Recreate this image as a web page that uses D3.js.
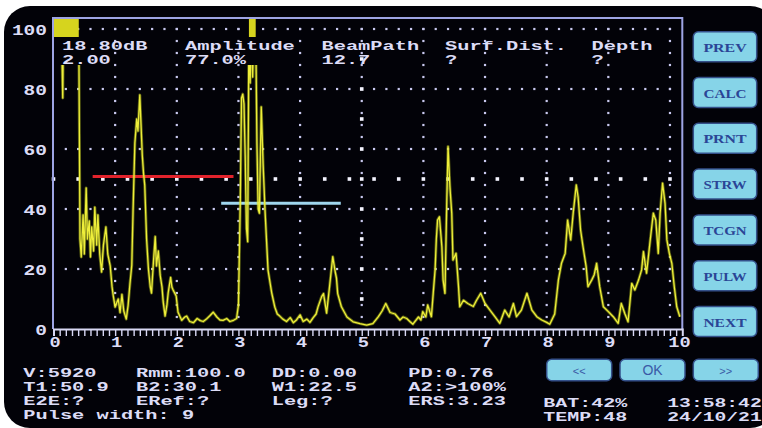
<!DOCTYPE html>
<html><head><meta charset="utf-8">
<script src="https://cdn.jsdelivr.net/npm/d3@7"></script>
<style>html,body{margin:0;padding:0;background:#fff;}svg{display:block;}</style>
</head><body><svg id="c" width="762" height="428"></svg>
<script>
// ---- data ----
const traceX = [0,0.13,0.15,0.16,0.41,0.43,0.45,0.48,0.50,0.53,0.55,0.58,0.60,0.62,0.65,0.67,0.70,0.72,0.75,0.78,0.81,0.85,0.88,0.92,0.95,0.97,1.00,1.03,1.05,1.08,1.11,1.14,1.18,1.21,1.24,1.27,1.29,1.32,1.35,1.37,1.40,1.42,1.44,1.46,1.48,1.51,1.54,1.57,1.59,1.62,1.65,1.67,1.70,1.73,1.76,1.78,1.81,1.84,1.86,1.90,1.92,1.94,1.99,2.02,2.08,2.13,2.16,2.21,2.27,2.33,2.38,2.43,2.48,2.54,2.59,2.65,2.70,2.75,2.81,2.86,2.92,2.97,3.00,3.02,3.03,3.04,3.05,3.07,3.09,3.11,3.12,3.13,3.15,3.17,3.19,3.21,3.23,3.25,3.28,3.30,3.32,3.34,3.37,3.40,3.43,3.48,3.54,3.59,3.63,3.67,3.72,3.78,3.84,3.89,3.94,4.00,4.05,4.11,4.16,4.21,4.26,4.29,4.35,4.38,4.43,4.48,4.53,4.57,4.59,4.61,4.67,4.76,4.86,4.97,5.08,5.18,5.27,5.33,5.39,5.46,5.54,5.62,5.67,5.73,5.78,5.83,5.92,5.96,5.99,6.04,6.07,6.13,6.16,6.19,6.21,6.23,6.26,6.30,6.32,6.35,6.38,6.40,6.43,6.46,6.48,6.53,6.57,6.59,6.65,6.72,6.81,6.86,6.93,7.00,7.08,7.16,7.24,7.32,7.39,7.46,7.51,7.59,7.68,7.76,7.84,7.92,8.00,8.05,8.13,8.19,8.24,8.30,8.34,8.39,8.43,8.48,8.51,8.55,8.59,8.64,8.67,8.73,8.77,8.81,8.86,8.92,9.00,9.08,9.16,9.21,9.27,9.32,9.38,9.43,9.49,9.54,9.57,9.62,9.68,9.73,9.77,9.81,9.84,9.88,9.92,9.95,9.99,10.03,10.07,10.11,10.16];
const traceY = [100,100,77,100,100,30,24,38,25,47,30,36,24,34,26,40.6,28,38,25,19,28,34,25,21,14,11,7.3,9,10,5.5,11.5,6,3.3,7.8,15,21.3,38.8,62,70,66,78,68,58,52,48,30,20,14,12,22,30.8,21,26,18,14,9,4.3,8,12,17.2,14,13,11,5.6,2.9,4,4.3,2.5,2.1,3.5,2.8,2.5,3.3,4.5,5.6,4,3,2.9,3.5,2.5,2.9,3.5,8,30.7,42.4,60,77,78.3,75,57,45,33.4,29.1,100,82,100,84,100,100,62,40,38.6,74,55,40,19.6,12,7.3,5,4.3,3.3,2.5,3.8,2.1,3,4.7,2.5,3.3,2.2,3.7,5,7.3,10.8,11.8,5.3,14.5,24.1,19,17,11.8,7.4,4,2.4,1.8,1.3,1.8,4.1,6,8.5,5.5,5,3,4,3.5,2.5,1.6,4,3,5.8,4,8,4.1,12,19.7,30,36.3,37.4,27.4,16.3,11.9,43,60.8,47.6,38.6,23,25.2,14.1,7.4,9.6,8.5,7.5,9.5,11.9,8.5,6.3,4.1,1.9,6.3,4,8.5,4.1,6.3,11.9,6.3,4.1,3,2.2,1.6,5,16.3,21.9,25.2,36.3,29.7,38.6,48,44,33,27.4,20.8,14.1,16.3,18,21.9,14.1,7.4,5.8,4.1,1.9,8.5,5,2.4,15.2,13,16.3,19.7,25.8,18.6,29.7,38.6,36.3,25.2,38.6,48.6,41.9,29.7,25.2,21.9,14.1,7.4,4.1];
const displayLimit = 88;
const yTickValues = [0,20,40,60,80,100];
const xTickValues = [0,1,2,3,4,5,6,7,8,9,10];
const satStart = [0, 3.17];
const satEnd = [0.41, 3.28];
const gateLevel = [50.8, 41.9];
const gateStart = [0.635, 2.72];
const gateEnd = [2.92, 4.66];
const headerLabels = ["18.80dB", "Amplitude", "BeamPath", "Surf.Dist.", "Depth"];
const headerValues = ["2.00", "77.0%", "12.7", "?", "?"];
const infoCol1 = ["V:5920", "T1:50.9", "E2E:?", "Pulse width: 9"];
const infoCol2 = ["Rmm:100.0", "B2:30.1", "ERef:?"];
const infoCol3 = ["DD:0.00", "W1:22.5", "Leg:?"];
const infoCol4 = ["PD:0.76", "A2:>100%", "ERS:3.23"];
const statusLeft = ["BAT:42%", "TEMP:48"];
const statusRight = ["13:58:42", "24/10/21"];
const sideButtons = ["PREV", "CALC", "PRNT", "STRW", "TCGN", "PULW", "NEXT"];
const bottomButtons = ["<<", "OK", ">>"];

// ---- drawing ----
const svg = d3.select("#c");
const TXT = "#dcdcf6";
const FONT = "'Liberation Mono', 'DejaVu Sans Mono', monospace";
const FS = 13.5;

svg.append("rect").attr("width", 762).attr("height", 428).attr("fill", "#fff");
svg.append("rect").attr("x", 4).attr("y", 6).attr("width", 772).attr("height", 422)
  .attr("rx", 26).attr("fill", "#020208");

const x = d3.scaleLinear().domain([0, 10.2]).range([53.5, 682.3]);
const y = d3.scaleLinear().domain([0, 100]).range([329, 29]);

function txt(g, px, py, s, cw, opts = {}) {
  return g.append("text").attr("x", px).attr("y", py).text(s)
    .attr("font-family", opts.font || FONT).attr("font-weight", "bold")
    .attr("font-size", opts.size || FS).attr("fill", opts.fill || TXT)
    .attr("textLength", s.length * cw).attr("lengthAdjust", "spacingAndGlyphs")
    .attr("text-anchor", opts.anchor || "start").style("white-space", "pre");
}

// grid dots
const grid = svg.append("g");
const rows = [20, 40, 60, 80, 100];
rows.forEach(v => {
  d3.range(1, 51).forEach(i => {
    const xv = i * 0.2;
    grid.append("rect").attr("x", x(xv) - 1.1).attr("y", y(v) - 1.1)
      .attr("width", 2.2).attr("height", 2.2).attr("fill", "#c8c8ee");
  });
});
d3.range(1, 11).forEach(c => {
  d3.range(1, 26).forEach(k => {
    const v = k * 4;
    grid.append("rect").attr("x", x(c) - 1.1).attr("y", y(v) - 1.1)
      .attr("width", 2.2).attr("height", 2.2).attr("fill", "#c8c8ee");
  });
});
d3.range(0, 26).forEach(i => {
  const xv = i * 0.4;
  grid.append("rect").attr("x", x(xv) - 1.8).attr("y", y(50) - 1.8)
    .attr("width", 3.6).attr("height", 3.6).attr("fill", "#f4f4ff");
});
d3.range(1, 10).forEach(k => {
  grid.append("rect").attr("x", x(5) - 1.8).attr("y", y(k * 10) - 1.8)
    .attr("width", 3.6).attr("height", 3.6).attr("fill", "#f4f4ff");
});

// gates
gateLevel.forEach((lv, i) => {
  svg.append("line").attr("x1", x(gateStart[i])).attr("x2", x(gateEnd[i]))
    .attr("y1", y(lv)).attr("y2", y(lv))
    .attr("stroke", i === 0 ? "#e2232c" : "#9fd6ee").attr("stroke-width", 3);
});

// trace, clipped at the display limit
svg.append("clipPath").attr("id", "clipTrace").append("rect")
  .attr("x", x(0)).attr("y", y(displayLimit)).attr("width", x(10.2) - x(0)).attr("height", y(0) - y(displayLimit));
const pts = traceX.map((d, i) => [d, traceY[i]]);
const line = d3.line().x(d => x(d[0])).y(d => y(d[1]));
const tg = svg.append("g").attr("clip-path", "url(#clipTrace)");
tg.append("path").datum(pts).attr("d", line).attr("fill", "none")
  .attr("stroke", "rgba(200,210,30,0.45)").attr("stroke-width", 3).attr("stroke-linejoin", "round");
tg.append("path").datum(pts).attr("d", line).attr("fill", "none")
  .attr("stroke", "#eeee3a").attr("stroke-width", 1.3).attr("stroke-linejoin", "round");

// saturation markers
satStart.forEach((s, i) => {
  svg.append("rect").attr("x", x(s)).attr("y", 18.5)
    .attr("width", x(satEnd[i]) - x(s)).attr("height", 18.5).attr("fill", "#d6d41e");
});

// frame
svg.append("path")
  .attr("d", `M${x(0) - 0.5},${y(0)} V18 H${x(10.2)} V${y(0)}`)
  .attr("fill", "none").attr("stroke", "#9ea4e4").attr("stroke-width", 2);

// x ruler (axis)
const ruler = svg.append("g").attr("transform", `translate(0,${y(0)})`)
  .call(d3.axisBottom(x).tickValues(d3.range(0, 102).map(i => i / 10)).tickSize(7).tickFormat(""));
ruler.select(".domain").attr("stroke", "#d8d8f4").attr("stroke-width", 2);
ruler.selectAll(".tick line").attr("stroke", "#d8d8f4").attr("stroke-width", 1.4);

const xl = svg.append("g").attr("transform", `translate(0,${y(0)})`)
  .call(d3.axisBottom(x).tickValues(xTickValues).tickSize(0).tickPadding(0));
xl.select(".domain").remove();
xl.selectAll(".tick text")
  .attr("y", 18).attr("dy", 0)
  .attr("dx", d => d === 10 ? 9 : 1)
  .attr("font-family", FONT).attr("font-weight", "bold").attr("font-size", 14.5).attr("fill", TXT)
  .attr("textLength", d => String(d).length * 11.2).attr("lengthAdjust", "spacingAndGlyphs");

const yl = svg.append("g").attr("transform", "translate(47,0)")
  .call(d3.axisLeft(y).tickValues(yTickValues).tickSize(0).tickPadding(0));
yl.select(".domain").remove();
yl.selectAll(".tick text")
  .attr("dy", 5.5).attr("x", 0)
  .attr("font-family", FONT).attr("font-weight", "bold").attr("font-size", 15).attr("fill", TXT)
  .attr("textLength", d => String(d).length * 11.7).attr("lengthAdjust", "spacingAndGlyphs");

// header texts
const hx = [62, 185, 321.5, 445, 591.5];
headerLabels.forEach((s, i) => txt(svg, hx[i], 50, s, 12.2));
headerValues.forEach((s, i) => txt(svg, hx[i], 63.5, s, 12.2));

// info texts
const rowsY = [377, 391, 405, 418.5];
infoCol1.forEach((s, i) => txt(svg, 23.3, rowsY[i], s, 12.2));
infoCol2.forEach((s, i) => txt(svg, 136, rowsY[i], s, 12.2));
infoCol3.forEach((s, i) => txt(svg, 271.7, rowsY[i], s, 12.2));
infoCol4.forEach((s, i) => txt(svg, 408.3, rowsY[i], s, 12.2));
statusLeft.forEach((s, i) => txt(svg, 543.3, 407 + i * 13.6, s, 12));
statusRight.forEach((s, i) => txt(svg, 667.3, 407 + i * 13.6, s, 11.8));

// side buttons
sideButtons.forEach((s, i) => {
  const by = 31.7 + i * 45.8;
  svg.append("rect").attr("x", 693.3).attr("y", by).attr("width", 63.4).attr("height", 30)
    .attr("rx", 5).attr("fill", "#86d4e8").attr("stroke", "#34508a").attr("stroke-width", 1.5);
  svg.append("text").attr("x", 725).attr("y", by + 20).text(s)
    .attr("text-anchor", "middle").attr("font-family", "'Liberation Serif', serif")
    .attr("font-weight", "bold").attr("font-size", 13.5).attr("fill", "#2a4596")
    .attr("textLength", s.length * 10.8).attr("lengthAdjust", "spacingAndGlyphs");
});

// bottom buttons
const bbx = [546.7, 620, 693.3];
bottomButtons.forEach((s, i) => {
  svg.append("rect").attr("x", bbx[i]).attr("y", 359.3).attr("width", 65).attr("height", 21.4)
    .attr("rx", 5).attr("fill", "#86d4e8").attr("stroke", "#34508a").attr("stroke-width", 1.5);
  svg.append("text").attr("x", bbx[i] + 32.5).attr("y", 375).text(s)
    .attr("text-anchor", "middle").attr("font-family", "'Liberation Sans', sans-serif")
    .attr("font-size", s === "OK" ? 14 : 11).attr("fill", "#3a5aa6");
});
</script></body></html>
